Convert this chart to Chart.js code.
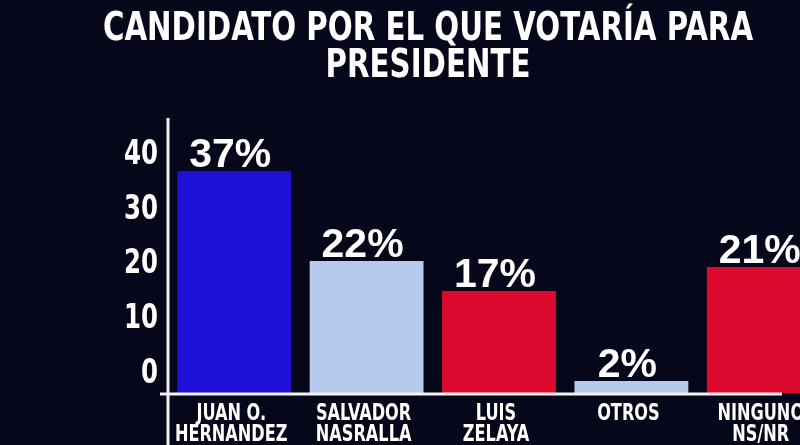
<!DOCTYPE html>
<html><head><meta charset="utf-8">
<script src="https://cdn.jsdelivr.net/npm/chart.js@4/dist/chart.umd.min.js"></script>
<style>
html,body{margin:0;padding:0;background:#06071a;overflow:hidden;width:800px;height:445px;}
#wrap{width:830px;height:445px;position:relative;}
</style></head><body>
<div id="wrap"><canvas id="c" width="830" height="445"></canvas></div>
<script>
const titleLines = ['CANDIDATO POR EL QUE VOTARÍA PARA', 'PRESIDENTE'];
const categories = [['JUAN O.', 'HERNANDEZ'], ['SALVADOR', 'NASRALLA'], ['LUIS', 'ZELAYA'], ['OTROS'], ['NINGUNO', 'NS/NR']];
const values = [37, 22, 17, 2, 21];
const tickLabels = [0, 10, 20, 30, 40];
const barColors = ['#1c10d6', '#b8c9ee', '#dc0a2e', '#b8c9ee', '#dc0a2e'];

const COND = "'Liberation Sans Narrow', 'DejaVu Sans Condensed', sans-serif";
const BOLD = "'Liberation Sans', Arial, sans-serif";

function squeezeText(ctx, text, x, y, sx, align) {
  ctx.save();
  ctx.translate(x, y);
  ctx.scale(sx, 1);
  ctx.textAlign = align;
  ctx.fillText(text, 0, 0);
  ctx.restore();
}

const decor = {
  id: 'decor',
  afterDatasetsDraw(chart) {
    const ctx = chart.ctx;
    const y2 = chart.scales.y2;
    const yS = chart.scales.y;
    const xS = chart.scales.x;
    const area = chart.chartArea;
    const base = y2.getPixelForValue(0);
    ctx.save();
    // axis lines
    ctx.strokeStyle = '#f2f2f2';
    ctx.lineWidth = 3;
    ctx.beginPath();
    ctx.moveTo(160, base + 1);
    ctx.lineTo(782, base + 1);
    ctx.stroke();
    ctx.beginPath();
    ctx.moveTo(area.left, area.top - 8);
    ctx.lineTo(area.left, 445);
    ctx.stroke();

    ctx.fillStyle = '#ffffff';
    ctx.textBaseline = 'alphabetic';
    // title
    ctx.font = 'bold 39px ' + COND;
    squeezeText(ctx, titleLines[0], 428, 40, 0.835, 'center');
    squeezeText(ctx, titleLines[1], 428, 77, 0.835, 'center');

    // y tick labels
    ctx.font = 'bold 34px ' + COND;
    ctx.textBaseline = 'middle';
    tickLabels.forEach(v => {
      squeezeText(ctx, String(v), 158, yS.getPixelForValue(v) + 2, 0.8, 'right');
    });

    // x category labels
    ctx.textBaseline = 'alphabetic';
    ctx.font = 'bold 23px ' + COND;
    categories.forEach((lines, i) => {
      const x = xS.getPixelForValue(i) - 3;
      lines.forEach((t, j) => {
        squeezeText(ctx, t, x, 420 + j * 21, 0.78, 'center');
      });
    });

    // value labels
    const meta = chart.getDatasetMeta(0);
    ctx.font = 'bold 41px ' + BOLD;
    meta.data.forEach((bar, i) => {
      squeezeText(ctx, values[i] + '%', bar.x - 4, bar.y - 4, 1.0, 'center');
    });
    ctx.restore();
  }
};

new Chart(document.getElementById('c'), {
  type: 'bar',
  data: {
    labels: categories,
    datasets: [{
      data: values,
      backgroundColor: barColors,
      borderWidth: 0,
      yAxisID: 'y2',
      barPercentage: 0.86,
      categoryPercentage: 1.0
    }]
  },
  options: {
    responsive: false,
    animation: false,
    layout: { padding: { left: 26, right: 0, top: 126, bottom: 0 } },
    plugins: {
      legend: { display: false },
      tooltip: { enabled: false },
      title: { display: false }
    },
    scales: {
      x: {
        grid: { display: false, drawTicks: false },
        border: { display: false },
        ticks: { display: false },
        afterFit(s) { s.height = 52; }
      },
      y: {
        position: 'left',
        min: -3.84,
        max: 44.93,
        grid: { display: false, drawTicks: false },
        border: { display: false },
        afterBuildTicks(s) { s.ticks = tickLabels.map(v => ({ value: v })); },
        ticks: { display: false },
        afterFit(s) { s.width = 142; }
      },
      y2: {
        display: false,
        min: 0,
        max: 44.5
      }
    }
  },
  plugins: [decor]
});
</script>
</body></html>
